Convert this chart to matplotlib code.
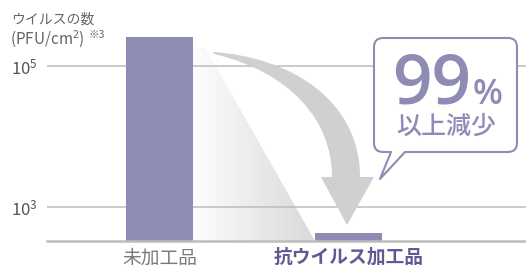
import matplotlib
matplotlib.use("Agg")
import matplotlib.pyplot as plt
import numpy as np
from matplotlib.path import Path
from matplotlib.patches import PathPatch, Polygon
from matplotlib.transforms import Affine2D

# ---- data ----
categories = ["未加工品", "抗ウイルス加工品"]
virus_counts = [2.6e5, 4.3e2]
ytick_values = [1e3, 1e5]
ytick_labels = [r"$\mathregular{10^{3}}$", r"$\mathregular{10^{5}}$"]
ylabel_line1 = "ウイルスの数"
ylabel_line2 = r"$\mathregular{(PFU/cm^{2})}$"
ylabel_note = "※3"
callout_big = "99"
callout_pct = "%"
callout_sub = "以上減少"

plt.rcParams['font.family'] = ['Noto Sans CJK JP', 'DejaVu Sans']
plt.rcParams['mathtext.fontset'] = 'custom'
plt.rcParams['mathtext.rm'] = 'Noto Sans'

W, H = 526, 269
fig = plt.figure(figsize=(W / 100, H / 100), dpi=100)
px = Affine2D().scale(1 / W, -1 / H).translate(0, 1) + fig.transFigure

BAR = "#8e8cb4"
PURPLE_TXT = "#5d5a94"
GRID = "#bcbcbc"

# main axes: x 47..526 px, y 20..241 px
ax_l, ax_r, ax_t, ax_b = 47, 526, 20, 241
ax = fig.add_axes([ax_l / W, 1 - ax_b / H, (ax_r - ax_l) / W, (ax_b - ax_t) / H])
ax.set_facecolor("none")
ax.set_zorder(2)
ax.set_yscale("log")
dec = 70.5
ax.set_ylim(10 ** (3 - (ax_b - 207) / dec), 10 ** (5 + (66 - ax_t) / dec))
unit = 189.0
ax.set_xlim(-(159.5 - ax_l) / unit, 1 + (ax_r - 348.5) / unit)

x = np.arange(len(categories))
bw = 67 / unit
ax.bar(x, virus_counts, width=bw, color=BAR, zorder=3)

for v in ytick_values:
    ax.axhline(v, color=GRID, lw=1.1, zorder=1)

ax.set_yticks(ytick_values)
ax.set_yticklabels(ytick_labels)
ax.yaxis.set_minor_locator(matplotlib.ticker.NullLocator())
ax.tick_params(axis="y", length=0, pad=7, labelsize=12, labelcolor="#555555")
ax.set_xticks(x)
ax.set_xticklabels(categories)
ax.tick_params(axis="x", length=0, pad=5, labelsize=13.5)
xl = ax.get_xticklabels()
xl[0].set_color("#7a7a7a")
xl[1].set_color(PURPLE_TXT)
xl[1].set_fontweight("bold")

for s in ["top", "right", "left"]:
    ax.spines[s].set_visible(False)
ax.spines["bottom"].set_color(GRID)
ax.spines["bottom"].set_linewidth(1.8)
ax.spines["bottom"].set_zorder(4)

# gradient shadow between bars (behind main axes)
g_x0, g_x1, g_y0, g_y1 = 193, 315, 48, 241
gax = fig.add_axes([g_x0 / W, 1 - g_y1 / H, (g_x1 - g_x0) / W, (g_y1 - g_y0) / H])
gax.set_zorder(1)
gax.axis("off")
grad = np.linspace(0, 1, 256)[None, :]
cmap = matplotlib.colors.LinearSegmentedColormap.from_list("g", ["#fdfdfd", "#d8d9da"])
im = gax.imshow(grad, extent=[0, 1, 0, 1], aspect="auto", cmap=cmap, origin="lower")
gax.set_xlim(0, 1); gax.set_ylim(0, 1)
tri = Polygon([(0, 0), (1, 0), (0.1, 1), (0, 1)], closed=True, transform=gax.transData,
              facecolor="none", edgecolor="none")
gax.add_patch(tri)
im.set_clip_path(tri)

# curved arrow
verts = [
    (213, 52),
    (290, 57), (360, 100), (360, 177),
    (374, 177),
    (347, 225),
    (321, 177),
    (332, 177),
    (332, 120), (290, 72), (214, 54),
    (213, 52),
]
codes = [Path.MOVETO,
         Path.CURVE4, Path.CURVE4, Path.CURVE4,
         Path.LINETO, Path.LINETO, Path.LINETO, Path.LINETO,
         Path.CURVE4, Path.CURVE4, Path.CURVE4,
         Path.CLOSEPOLY]
fig.add_artist(PathPatch(Path(verts, codes), transform=px, facecolor="#cfd0d2",
                         edgecolor="none", zorder=5))

# speech bubble
x0, x1, y0, y1, r = 374, 517, 38, 152, 9
bv = [(x0 + r, y0), (x1 - r, y0), (x1, y0), (x1, y0 + r), (x1, y1 - r), (x1, y1), (x1 - r, y1),
      (405, y1), (380, 179), (391, y1), (x0 + r, y1), (x0, y1), (x0, y1 - r),
      (x0, y0 + r), (x0, y0), (x0 + r, y0), (x0 + r, y0)]
bc = [Path.MOVETO, Path.LINETO, Path.CURVE3, Path.CURVE3, Path.LINETO, Path.CURVE3, Path.CURVE3,
      Path.LINETO, Path.LINETO, Path.LINETO, Path.LINETO, Path.CURVE3, Path.CURVE3,
      Path.LINETO, Path.CURVE3, Path.CURVE3, Path.CLOSEPOLY]
fig.add_artist(PathPatch(Path(bv, bc), transform=px, facecolor="white", edgecolor=BAR,
                         lw=1.5, zorder=6, joinstyle="round"))

fig.text(432 / W, 1 - 104 / H, callout_big, ha="center", va="baseline", fontsize=50,
         color=BAR, family=["Open Sans"], fontweight="semibold", zorder=7)
fig.text(488 / W, 1 - 104 / H, callout_pct, ha="center", va="baseline", fontsize=25,
         color=BAR, family=["Open Sans"], fontweight="semibold", zorder=7)
fig.text(446 / W, 1 - 127 / H, callout_sub, ha="center", va="center", fontsize=18,
         color=BAR, fontweight="medium", zorder=7)

# y label
fig.text(11 / W, 1 - 20 / H, ylabel_line1, ha="left", va="center", fontsize=10, color="#666666")
fig.text(10 / W, 1 - 39 / H, ylabel_line2, ha="left", va="center", fontsize=11, color="#666666")
fig.text(89 / W, 1 - 35 / H, ylabel_note, ha="left", va="center", fontsize=7.5, color="#666666")

fig.savefig("out.png", dpi=100)
